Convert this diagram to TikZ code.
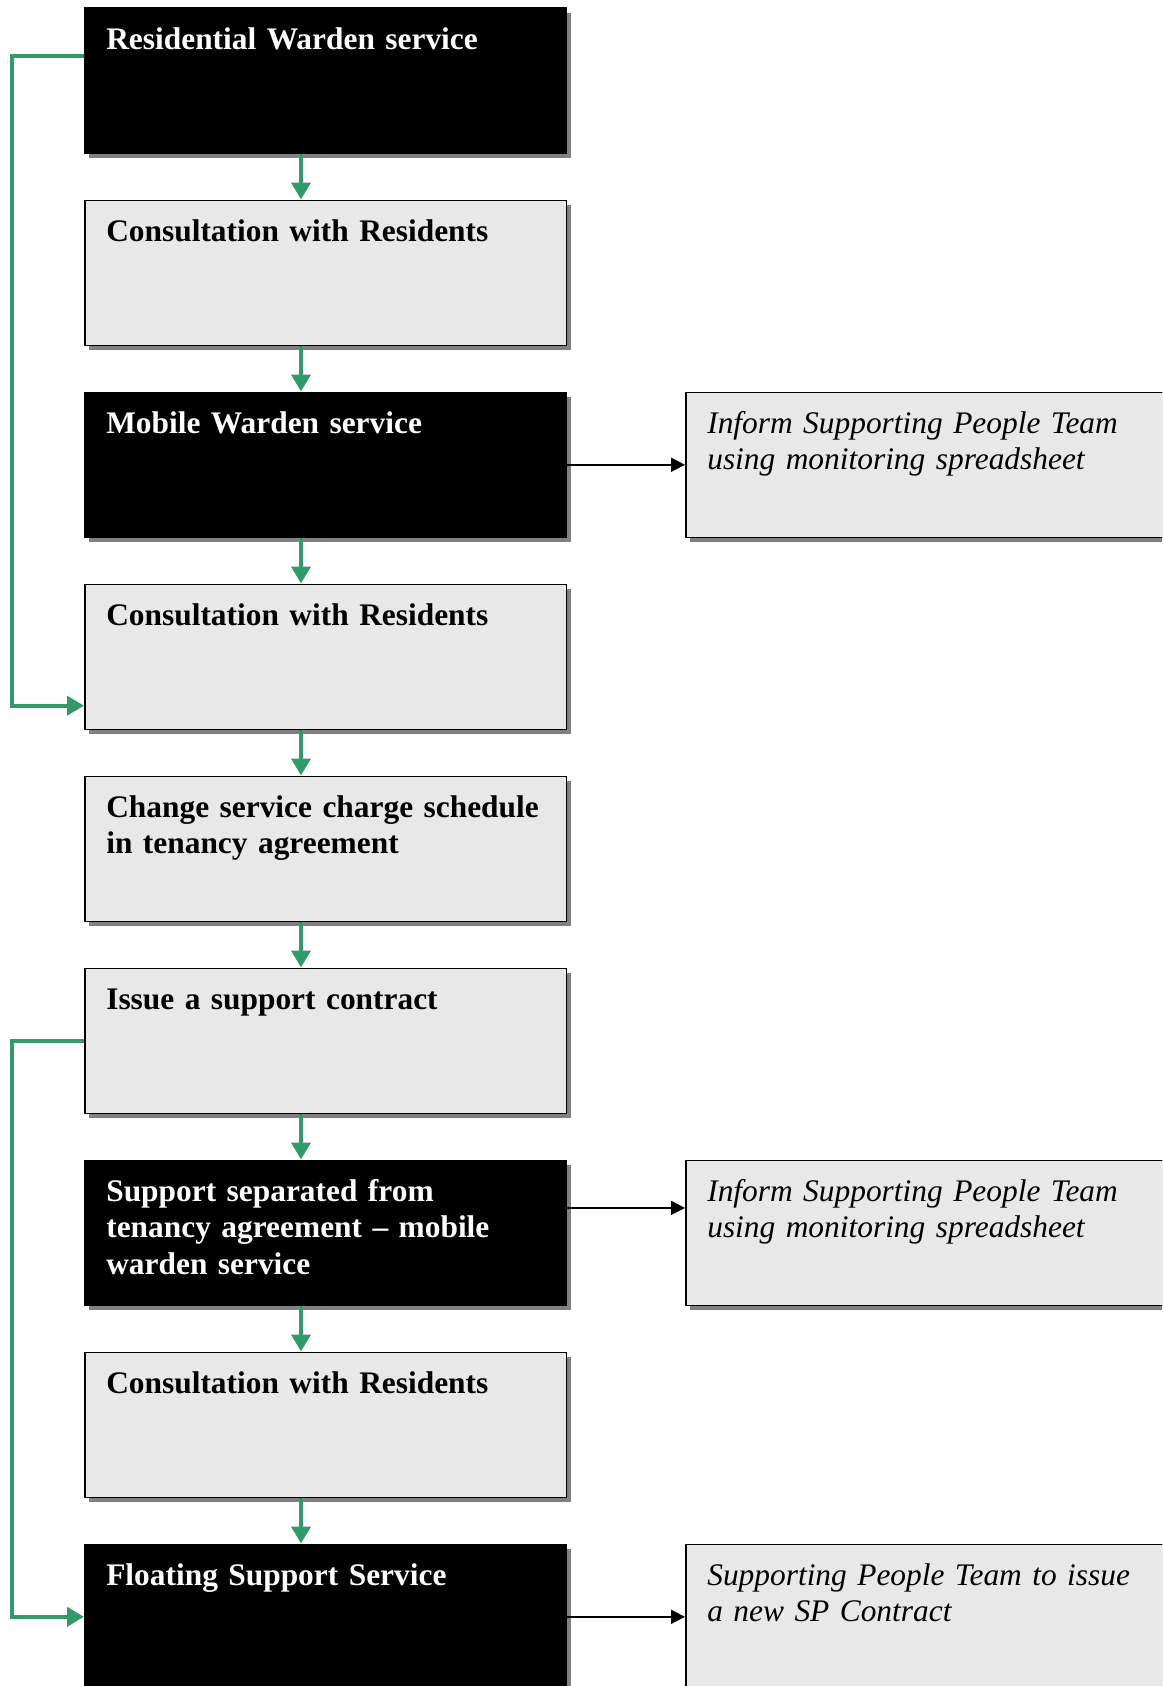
\documentclass[tikz,border=0pt]{standalone}
\usepackage{fontspec}
\setmainfont{Liberation Serif}
\usetikzlibrary{arrows.meta, shadows, calc}
\definecolor{Pale} {HTML}{E8E8E8}
\definecolor{Shade}{HTML}{808080}
\definecolor{Green}{HTML}{339966}
\tikzset{
  stage/.style args={#1/#2}{
    rectangle, draw=black, fill=#1, text=#2,
    line width=0.8pt, anchor=north west,
    font=\fontsize{15.7}{18.4}\selectfont\bfseries, align=left,
    execute at begin node={\hyphenpenalty=10000\relax},
    inner xsep=10.75pt, inner ysep=0pt,
    text width=219.3pt, text height=20.4pt, text depth=52.1pt,
    drop shadow={shadow xshift=2.2pt, shadow yshift=-2.2pt, fill=Shade, opacity=1},
  },
  note/.style={
    stage=Pale/black,
    font=\fontsize{15.7}{18.4}\selectfont\itshape,
  },
  garr/.style={
    -{Triangle[length=8.5pt,width=9.5pt]},
    line width=2pt, draw=Green,
  },
  barr/.style={
    -{Triangle[length=7pt,width=7pt]},
    line width=0.8pt, draw=black,
  },
}
\begin{document}
\begin{tikzpicture}[x=0.5pt,y=-0.5pt]
  \clip (0,0) rectangle (1162,1686);
  % main column
  \node[stage=black/white] (rw)   at (84,   7.5) {Residential Warden service};
  \node[stage=Pale/black]  (con1) at (84, 199.5) {Consultation with Residents};
  \node[stage=black/white] (mw)   at (84, 391.5) {Mobile Warden service};
  \node[stage=Pale/black]  (con2) at (84, 583.5) {Consultation with Residents};
  \node[stage=Pale/black]  (chg)  at (84, 775.5) {Change service charge schedule\\in tenancy agreement};
  \node[stage=Pale/black]  (isc)  at (84, 967.5) {Issue a support contract};
  \node[stage=black/white] (sep)  at (84,1159.5) {Support separated from\\tenancy agreement -- mobile\\warden service};
  \node[stage=Pale/black]  (con3) at (84,1351.5) {Consultation with Residents};
  \node[stage=black/white] (fss)  at (84,1543.5) {Floating Support Service};
  % notes for the Supporting People Team
  \node[note] (sp1) at (685, 391.5) {Inform Supporting People Team\\using monitoring spreadsheet};
  \node[note] (sp2) at (685,1159.5) {Inform Supporting People Team\\using monitoring spreadsheet};
  \node[note] (sp3) at (685,1543.5) {Supporting People Team to issue\\a new SP Contract};
  % flow down the column
  \coordinate (ax) at (301,0);
  \draw[garr] (rw.south -| ax)   -- (con1.north -| ax);
  \draw[garr] (con1.south -| ax) -- (mw.north -| ax);
  \draw[garr] (mw.south -| ax)   -- (con2.north -| ax);
  \draw[garr] (con2.south -| ax) -- (chg.north -| ax);
  \draw[garr] (chg.south -| ax)  -- (isc.north -| ax);
  \draw[garr] (isc.south -| ax)  -- (sep.north -| ax);
  \draw[garr] (sep.south -| ax)  -- (con3.north -| ax);
  \draw[garr] (con3.south -| ax) -- (fss.north -| ax);
  % bypass lines
  \draw[garr] ([yshift=-24.2pt]rw.north west) -- ++(-36.1pt,0)
              |- ([yshift=12.2pt]con2.south west);
  \draw[garr] (isc.west) -- ++(-36.1pt,0) |- (fss.west);
  % to the notes
  \draw[barr] (mw.east)  -- (sp1.west);
  \draw[barr] ([yshift=-24.2pt]sep.north east) -- ([yshift=-24.2pt]sp2.north west);
  \draw[barr] (fss.east) -- (sp3.west);
\end{tikzpicture}
\end{document}
